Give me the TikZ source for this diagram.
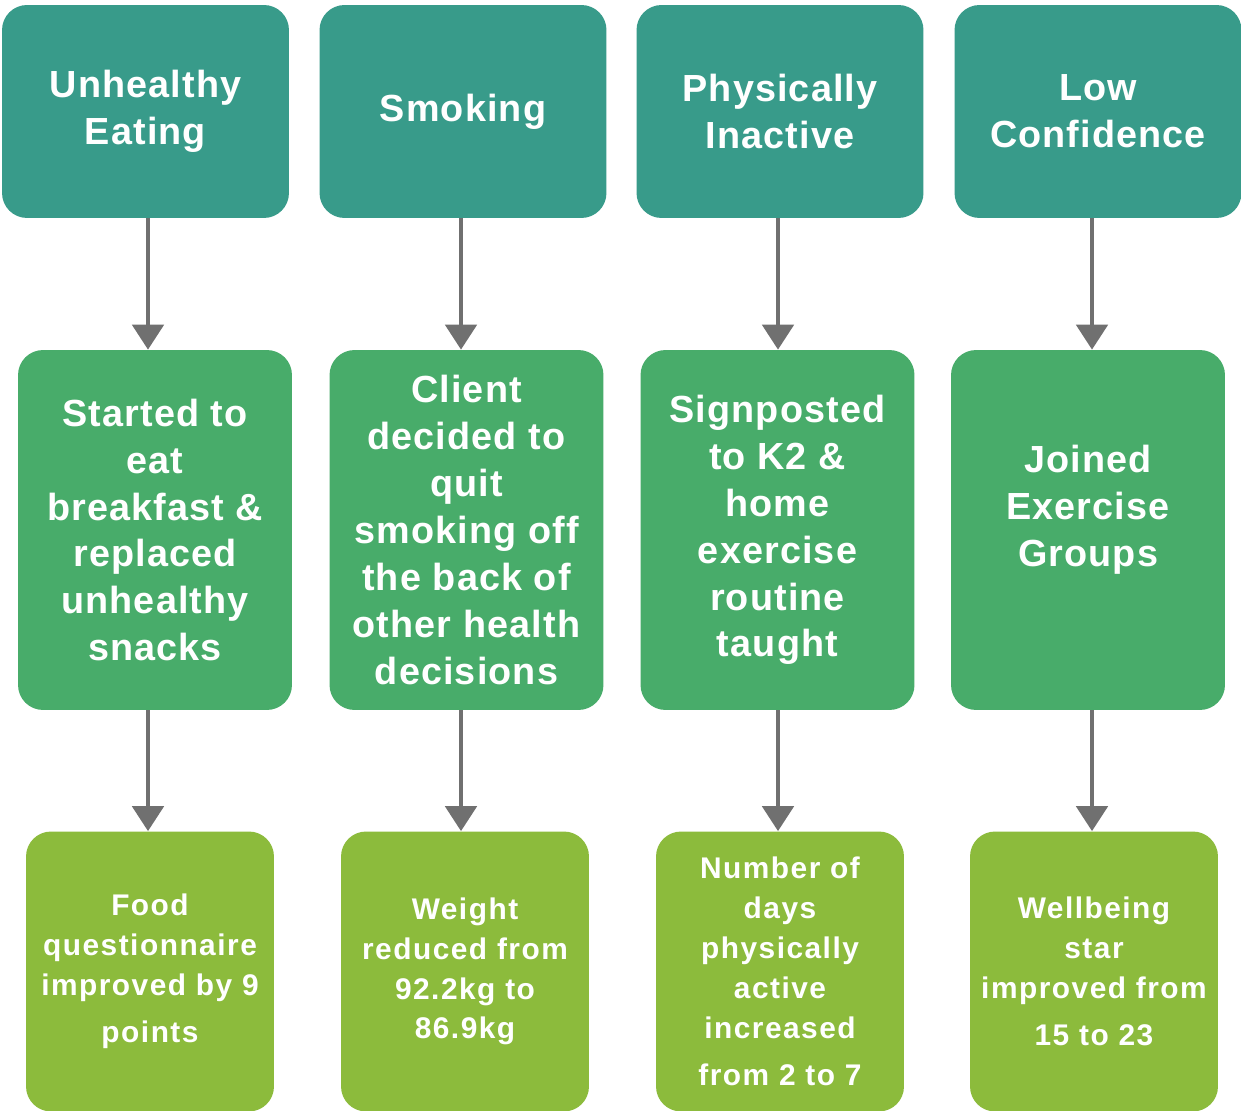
\documentclass[tikz,border=0pt]{standalone}
\usepackage{fontspec}
\setmainfont{Liberation Sans}
\usetikzlibrary{arrows.meta}
\definecolor{cteal}{HTML}{389B8A}
\definecolor{cgreen}{HTML}{48AC6A}
\definecolor{clime}{HTML}{8CBB3C}
\definecolor{carrow}{HTML}{707070}
\begin{document}
\begin{tikzpicture}[x=0.02cm,y=-0.02cm,
  bigfont/.style={font=\bfseries\addfontfeature{LetterSpace=3}\fontsize{21.5}{26.7}\selectfont},
  box/.style={rounded corners=0.5cm, inner sep=0pt, align=center, text=white, bigfont},
  top/.style={box, fill=cteal, minimum width=5.74cm, minimum height=4.26cm},
  mid/.style={box, fill=cgreen, minimum width=5.48cm, minimum height=7.2cm},
  bot/.style={box, fill=clime, minimum width=4.96cm, minimum height=5.6cm,
    font=\bfseries\addfontfeature{LetterSpace=5}\fontsize{17}{22.7}\selectfont},
  arr/.style={draw=carrow, line width=4pt*0.7, -{Triangle[width=0.62cm,length=0.5cm]}}]
\useasboundingbox (0,0) rectangle (1241,1111);
\fill[white] (0,0) rectangle (1241,1111);
% row 1
\node[top] (t1) at (145.5,111.5) {Unhealthy\\Eating};
\node[top] (t2) at (463,111.5) {Smoking};
\node[top] (t3) at (780,111.5) {Physically\\Inactive};
\node[top] (t4) at (1098,111.5) {Low\\Confidence};
% row 2
\node[mid] (m1) at (155,530) {Started to\\eat\\breakfast \&\\replaced\\unhealthy\\snacks};
\node[mid] (m2) at (466.5,530) {Client\\decided to\\quit\\smoking off\\the back of\\other health\\decisions};
\node[mid] (m3) at (777.5,530) {Signposted\\to K2 \&\\home\\exercise\\routine\\taught};
\node[mid] (m4) at (1088,530) {};
\node[align=center, text=white, bigfont] (m4t) at (1088,510) {Joined\\Exercise\\Groups};
% row 3
\node[bot] (b1) at (150,971.5) {Food\\questionnaire\\improved by 9\\[4pt]points};
\node[bot] (b2) at (465,971.5) {Weight\\reduced from\\92.2kg to\\86.9kg};
\node[bot] (b3) at (780,971.5) {Number of\\days\\physically\\active\\increased\\[4pt]from 2 to 7};
\node[bot] (b4) at (1094,971.5) {Wellbeing\\star\\improved from\\[4pt]15 to 23};
% arrow columns
\coordinate (x1) at (148,0);
\coordinate (x2) at (461,0);
\coordinate (x3) at (778,0);
\coordinate (x4) at (1092,0);
\foreach \i in {1,2,3,4}{
  \draw[arr] (t\i.south -| x\i) -- (m\i.north -| x\i);
  \draw[arr] (m\i.south -| x\i) -- (b\i.north -| x\i);
}
\end{tikzpicture}
\end{document}
